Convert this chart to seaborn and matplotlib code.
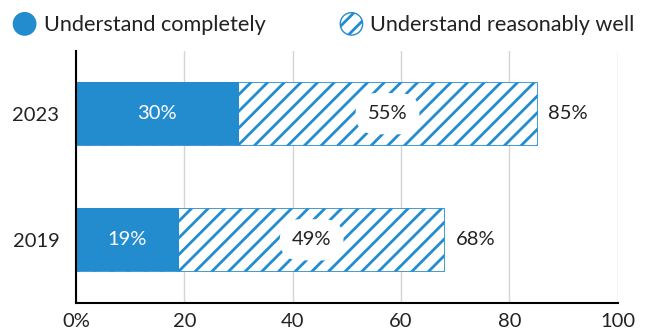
import matplotlib
matplotlib.use("Agg")
import matplotlib.pyplot as plt
import matplotlib.patches as mpatches
from matplotlib.legend_handler import HandlerPatch
import seaborn as sns
import pandas as pd

years = ["2023", "2019"]
completely = [30, 19]
reasonably = [55, 49]
totals = [85, 68]
x_ticks = [0, 20, 40, 60, 80, 100]
x_tick_labels = ["0%", "20", "40", "60", "80", "100"]

BLUE = "#238ccf"

sns.set_theme(style="white")
plt.rcParams["font.family"] = ["Lato", "DejaVu Sans"]
plt.rcParams["hatch.linewidth"] = 2.0

df = pd.DataFrame({"year": years, "completely": completely,
                   "reasonably": reasonably, "total": totals})

fig = plt.figure(figsize=(6.49, 3.31), dpi=100)
ax = fig.add_axes([0.117, 0.085, 0.835, 0.762])

# total bar (hatched) underneath, solid bar on top
sns.barplot(data=df, y="year", x="total", order=years, ax=ax, orient="h",
            color="white", edgecolor=BLUE, linewidth=0.6, width=0.5,
            hatch="//", saturation=1)
sns.barplot(data=df, y="year", x="completely", order=years, ax=ax, orient="h",
            color=BLUE, linewidth=0, width=0.5, saturation=1)

for i, row in df.iterrows():
    ax.text(row["completely"] / 2, i, f"{row['completely']}%", color="white",
            ha="center", va="center", fontsize=14.5)
    mid = row["completely"] + row["reasonably"] / 2
    ax.text(mid, i, f"{row['reasonably']}%", color="#222222", ha="center",
            va="center", fontsize=14.5,
            bbox=dict(boxstyle="round,pad=0.6,rounding_size=1.0",
                      fc="white", ec="none"))
    ax.text(row["total"] + 2.2, i, f"{row['total']}%", color="#222222",
            ha="left", va="center", fontsize=14.5)

ax.set_xlim(0, 100)
ax.set_ylim(1.5, -0.5)
ax.set_xticks(x_ticks)
ax.set_xticklabels(x_tick_labels)
ax.set_xlabel("")
ax.set_ylabel("")
ax.tick_params(axis="both", length=0, labelsize=14.5, labelcolor="#222222")
ax.tick_params(axis="x", pad=7)
ax.tick_params(axis="y", pad=12)
ax.grid(axis="x", color="#d4d4d4", linewidth=1)
ax.set_axisbelow(True)
for s in ["top", "right"]:
    ax.spines[s].set_visible(False)
ax.spines["left"].set_color("black")
ax.spines["left"].set_linewidth(1.5)
ax.spines["bottom"].set_color("black")
ax.spines["bottom"].set_linewidth(1.5)


def make_circle(legend, orig_handle, xdescent, ydescent, width, height, fontsize):
    r = height * 0.6
    return mpatches.Ellipse((width / 2 - xdescent, height / 2 - ydescent), 2 * r, 2 * r)


h1 = mpatches.Circle((0, 0), 1, facecolor=BLUE, edgecolor=BLUE)
h2 = mpatches.Circle((0, 0), 1, facecolor="white", edgecolor=BLUE,
                     hatch="//", linewidth=1)
fig.legend([h1, h2], ["Understand completely", "Understand reasonably well"],
           handler_map={mpatches.Circle: HandlerPatch(patch_func=make_circle)},
           loc="upper left", bbox_to_anchor=(-0.008, 1.015), ncol=2, frameon=False,
           fontsize=15.6, handlelength=0.95, handleheight=0.95, handletextpad=0.4,
           columnspacing=3.5, labelcolor="#222222")

fig.savefig("out.png", dpi=100)
